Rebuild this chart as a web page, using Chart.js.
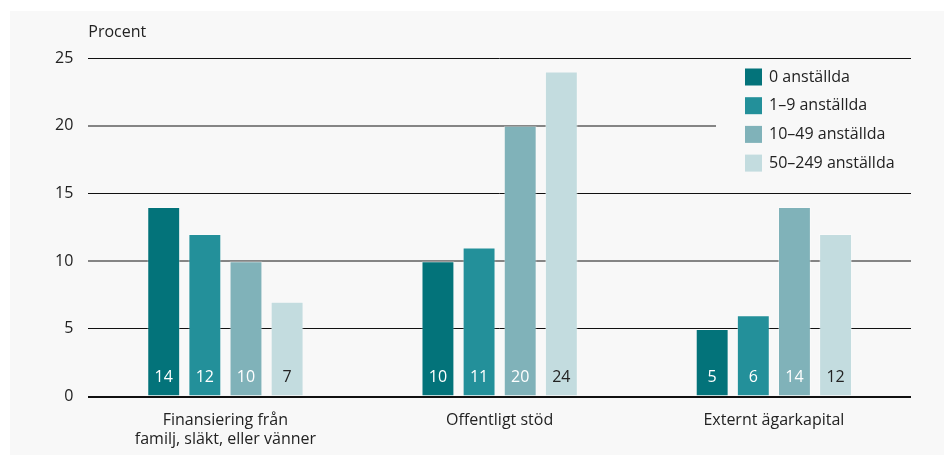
<!DOCTYPE html>
<html>
<head>
<meta charset="utf-8">
<script src="https://cdn.jsdelivr.net/npm/chart.js@4"></script>
<style>
  html, body { margin: 0; padding: 0; background: #ffffff; }
  #wrap { width: 944px; height: 455px; }
</style>
</head>
<body>
<div id="wrap"><canvas id="fundingChart" width="944" height="455"></canvas></div>
<script>
// Categories and series (procent)
const categories = [
    ['Finansiering från', 'familj, släkt, eller vänner'],
    'Offentligt stöd',
    'Externt ägarkapital'
];
const seriesNames = ['0 anställda', '1–9 anställda', '10–49 anställda', '50–249 anställda'];
const zeroEmployees = [14, 10, 5];
const oneToNine = [12, 11, 6];
const tenToFortyNine = [10, 20, 14];
const fiftyToTwoFortyNine = [7, 24, 12];
const yTicks = [0, 5, 10, 15, 20, 25];

const colors = ['#03737a', '#23909a', '#80b2b9', '#c3dcdf'];
const labelColors = ['#ffffff', '#ffffff', '#ffffff', '#222222'];
const fontFamily = '"Open Sans", sans-serif';
const fontSize = 16;

document.addEventListener("DOMContentLoaded", function() {
    const ctx = document.getElementById('fundingChart').getContext('2d');

    // Grey panel behind everything
    const panelBg = {
        id: 'panelBg',
        beforeDraw(chart) {
            const c = chart.ctx;
            c.save();
            c.fillStyle = '#f8f8f8';
            c.fillRect(10, 11, chart.width - 10, chart.height - 11);
            c.restore();
        }
    };

    // "Procent" above the y axis
    const axisTitle = {
        id: 'axisTitle',
        afterDraw(chart) {
            const c = chart.ctx;
            c.save();
            c.font = fontSize + 'px ' + fontFamily;
            c.fillStyle = '#222222';
            c.textAlign = 'left';
            c.textBaseline = 'middle';
            c.fillText('Procent', chart.chartArea.left, 32);
            c.restore();
        }
    };

    // Legend box inside the plot, hides the grid behind it
    const boxLegend = {
        id: 'boxLegend',
        beforeDatasetsDraw(chart) {
            const c = chart.ctx;
            const right = chart.chartArea.right;
            c.save();
            c.fillStyle = '#f8f8f8';
            c.fillRect(716, 62, right - 716 + 1, 120);
            c.font = fontSize + 'px ' + fontFamily;
            c.textAlign = 'left';
            c.textBaseline = 'middle';
            chart.data.datasets.forEach((ds, i) => {
                const y = 77 + i * 28.7;
                c.fillStyle = ds.backgroundColor;
                c.fillRect(745, y - 8.5, 17, 17);
                c.fillStyle = '#222222';
                c.fillText(ds.label, 769, y);
            });
            c.restore();
        }
    };

    // Values written near the foot of each bar
    const barValues = {
        id: 'barValues',
        afterDatasetsDraw(chart) {
            const c = chart.ctx;
            c.save();
            c.font = fontSize + 'px ' + fontFamily;
            c.textAlign = 'center';
            c.textBaseline = 'middle';
            chart.data.datasets.forEach((ds, i) => {
                chart.getDatasetMeta(i).data.forEach((bar, j) => {
                    c.fillStyle = labelColors[i];
                    c.fillText(ds.data[j], bar.x, bar.base - 18);
                });
            });
            c.restore();
        }
    };

    const seriesData = [zeroEmployees, oneToNine, tenToFortyNine, fiftyToTwoFortyNine];

    new Chart(ctx, {
        type: 'bar',
        data: {
            labels: categories,
            datasets: seriesNames.map((name, i) => ({
                label: name,
                data: seriesData[i],
                backgroundColor: colors[i],
                borderColor: 'rgba(255,255,255,0.35)',
                borderWidth: 1,
                categoryPercentage: 0.6,
                barPercentage: 0.8
            }))
        },
        options: {
            responsive: false,
            animation: false,
            layout: {
                padding: { left: 40, right: 33, top: 58, bottom: 0 }
            },
            plugins: {
                legend: { display: false },
                tooltip: { enabled: false }
            },
            scales: {
                x: {
                    grid: { display: false },
                    border: { display: false },
                    ticks: {
                        color: '#222222',
                        font: { family: fontFamily, size: fontSize, lineHeight: 1.2 },
                        padding: 6,
                        maxRotation: 0
                    }
                },
                y: {
                    min: 0,
                    max: 25,
                    afterBuildTicks: axis => { axis.ticks = yTicks.map(v => ({ value: v })); },
                    border: { display: false },
                    grid: {
                        drawTicks: false,
                        color: c => (c.tick && c.tick.value % 10 === 0 && c.tick.value > 0) ? '#858585' : '#111111',
                        lineWidth: c => {
                            if (!c.tick) return 1;
                            if (c.tick.value === 0) return 2;
                            return c.tick.value % 10 === 0 ? 2 : 1;
                        }
                    },
                    ticks: {
                        color: '#222222',
                        font: { family: fontFamily, size: fontSize },
                        padding: 15
                    }
                }
            }
        },
        plugins: [panelBg, boxLegend, barValues, axisTitle]
    });
});
</script>
</body>
</html>
